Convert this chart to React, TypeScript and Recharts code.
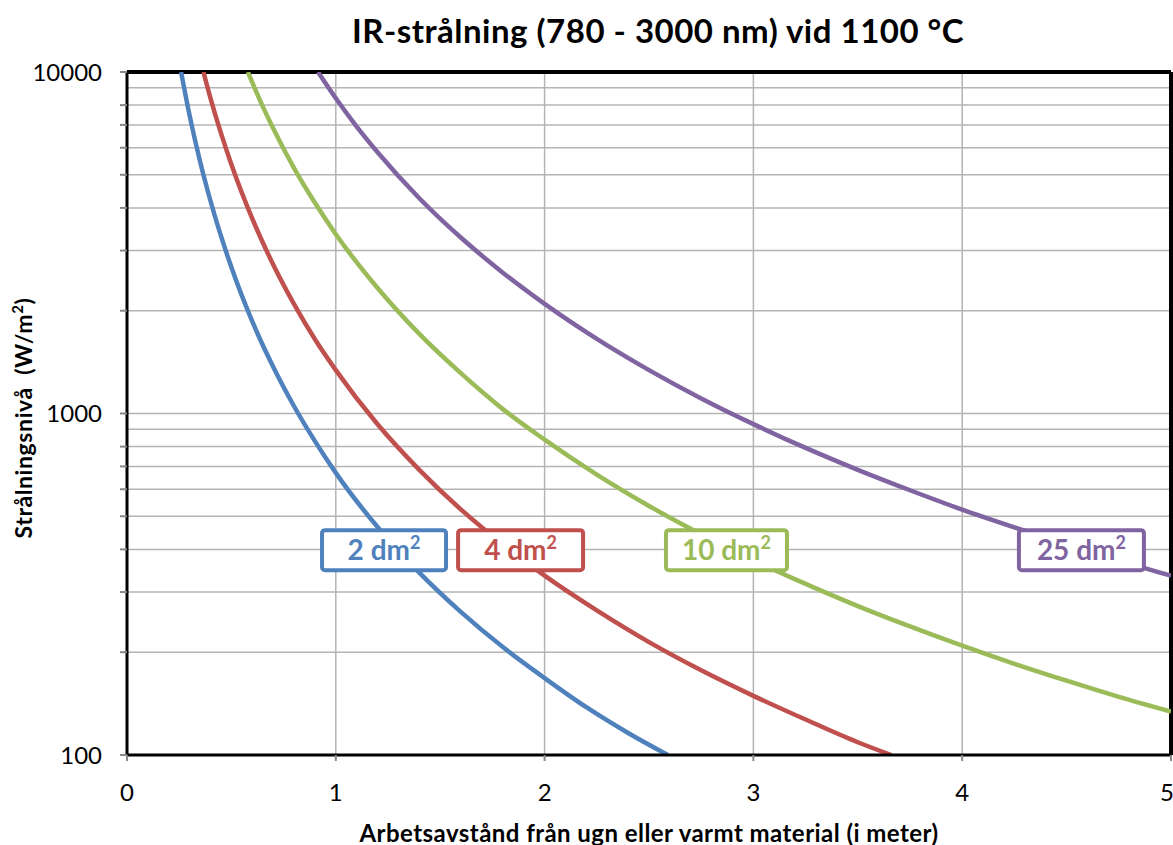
import React from 'react';
import {
  LineChart,
  Line,
  XAxis,
  YAxis,
  CartesianGrid,
  ReferenceLine,
  ReferenceDot,
} from 'recharts';

// avstånd (m) -> strålning (W/m2)
const blue2 = [
  { x: 0.259, y: 10000 }, { x: 0.3, y: 7450 }, { x: 0.35, y: 5470 }, { x: 0.4, y: 4190 },
  { x: 0.5, y: 2680 }, { x: 0.6, y: 1860 }, { x: 0.7, y: 1370 }, { x: 0.8, y: 1050 },
  { x: 0.9, y: 830 }, { x: 1.0, y: 670 }, { x: 1.2, y: 465 }, { x: 1.4, y: 342 },
  { x: 1.6, y: 262 }, { x: 1.8, y: 207 }, { x: 2.0, y: 168 }, { x: 2.2, y: 138 },
  { x: 2.4, y: 116 }, { x: 2.59, y: 100 },
];
const red4 = [
  { x: 0.366, y: 10000 }, { x: 0.4, y: 8375 }, { x: 0.45, y: 6620 }, { x: 0.5, y: 5360 },
  { x: 0.6, y: 3720 }, { x: 0.7, y: 2730 }, { x: 0.8, y: 2090 }, { x: 0.9, y: 1650 },
  { x: 1.0, y: 1340 }, { x: 1.2, y: 930 }, { x: 1.4, y: 684 }, { x: 1.6, y: 523 },
  { x: 1.8, y: 414 }, { x: 2.0, y: 335 }, { x: 2.25, y: 265 }, { x: 2.5, y: 214 },
  { x: 2.75, y: 177 }, { x: 3.0, y: 149 }, { x: 3.25, y: 127 }, { x: 3.5, y: 109 },
  { x: 3.66, y: 100 },
];
const green10 = [
  { x: 0.579, y: 10000 }, { x: 0.65, y: 7930 }, { x: 0.7, y: 6840 }, { x: 0.8, y: 5230 },
  { x: 0.9, y: 4140 }, { x: 1.0, y: 3350 }, { x: 1.2, y: 2330 }, { x: 1.4, y: 1710 },
  { x: 1.6, y: 1310 }, { x: 1.8, y: 1030 }, { x: 2.0, y: 838 }, { x: 2.25, y: 662 },
  { x: 2.5, y: 536 }, { x: 2.75, y: 443 }, { x: 3.0, y: 372 }, { x: 3.25, y: 317 },
  { x: 3.5, y: 273 }, { x: 3.75, y: 238 }, { x: 4.0, y: 209 }, { x: 4.25, y: 185 },
  { x: 4.5, y: 165 }, { x: 4.75, y: 148 }, { x: 5.0, y: 134 },
];
const purple25 = [
  { x: 0.915, y: 10000 }, { x: 1.0, y: 8375 }, { x: 1.1, y: 6920 }, { x: 1.2, y: 5820 },
  { x: 1.4, y: 4270 }, { x: 1.6, y: 3270 }, { x: 1.8, y: 2585 }, { x: 2.0, y: 2094 },
  { x: 2.25, y: 1654 }, { x: 2.5, y: 1340 }, { x: 2.75, y: 1107 }, { x: 3.0, y: 931 },
  { x: 3.25, y: 793 }, { x: 3.5, y: 684 }, { x: 3.75, y: 596 }, { x: 4.0, y: 523 },
  { x: 4.25, y: 464 }, { x: 4.5, y: 414 }, { x: 4.75, y: 371 }, { x: 5.0, y: 335 },
];

const xTicks = [0, 1, 2, 3, 4, 5];
const yTicks = [
  100, 200, 300, 400, 500, 600, 700, 800, 900,
  1000, 2000, 3000, 4000, 5000, 6000, 7000, 8000, 9000, 10000,
];
const yLabels = [100, 1000, 10000];

const series = [
  { name: '2 dm', data: blue2, color: '#4F81BD', labelX: 1.231, w: 124 },
  { name: '4 dm', data: red4, color: '#C0504D', labelX: 1.885, w: 125 },
  { name: '10 dm', data: green10, color: '#9BBB59', labelX: 2.871, w: 121 },
  { name: '25 dm', data: purple25, color: '#8064A2', labelX: 4.571, w: 125 },
];
const labelY = 398;

const FONT = 'Lato, "Open Sans", sans-serif';

function BoxLabel({ cx, cy, text, color, w }: any) {
  const h = 40;
  return (
    <g>
      <rect
        x={cx - w / 2}
        y={cy - h / 2}
        width={w}
        height={h}
        rx={3}
        fill="#fff"
        stroke={color}
        strokeWidth={4}
      />
      <text
        x={cx}
        y={cy}
        dy="0.36em"
        textAnchor="middle"
        fill={color}
        fontSize={28}
        fontWeight={700}
        fontFamily={FONT}
      >
        {text}
        <tspan fontSize={18} dy={-11}>2</tspan>
      </text>
    </g>
  );
}

export default function App() {
  return (
    <div
      style={{
        position: 'absolute',
        left: 0,
        top: 0,
        width: 1173,
        height: 845,
        background: '#fff',
        fontFamily: FONT,
      }}
    >
      <div
        style={{
          position: 'absolute',
          top: 10,
          left: 0,
          width: 1316,
          textAlign: 'center',
          fontSize: 33,
          letterSpacing: 0.5,
          fontWeight: 700,
          color: '#000',
        }}
      >
        IR-strålning (780 - 3000 nm) vid 1100 °C
      </div>
      <div
        style={{
          position: 'absolute',
          left: 23,
          top: 418,
          transform: 'translate(-50%, -50%) rotate(-90deg)',
          whiteSpace: 'pre',
          fontSize: 23,
          letterSpacing: 0.6,
          fontWeight: 700,
        }}
      >
        Strålningsnivå  (W/m
        <span style={{ fontSize: 15, verticalAlign: 'super', lineHeight: 0 }}>2</span>)
      </div>
      <div
        style={{
          position: 'absolute',
          left: 649,
          top: 832,
          transform: 'translate(-50%, -50%)',
          whiteSpace: 'pre',
          fontSize: 24,
          letterSpacing: 0.45,
          fontWeight: 700,
        }}
      >
        Arbetsavstånd från ugn eller varmt material (i meter)
      </div>
      <LineChart
        width={1173}
        height={845}
        margin={{ top: 72, right: 2, bottom: 0, left: 0 }}
        style={{ position: 'absolute', left: 0, top: 0 }}
      >
        <CartesianGrid stroke="#b4b4b4" strokeWidth={1.5} />
        <XAxis
          type="number"
          dataKey="x"
          domain={[0, 5]}
          ticks={xTicks}
          allowDataOverflow
          height={90}
          axisLine={{ stroke: '#000', strokeWidth: 3 }}
          tickLine={{ stroke: '#888', strokeWidth: 2 }}
          tickSize={6}
          tickMargin={23}
          tick={{ fill: '#000', fontSize: 24 }}
        />
        <YAxis
          type="number"
          dataKey="y"
          scale="log"
          domain={[100, 10000]}
          ticks={yTicks}
          allowDataOverflow
          width={127}
          axisLine={{ stroke: '#000', strokeWidth: 3 }}
          tickLine={{ stroke: '#888', strokeWidth: 2 }}
          tickSize={7}
          tickMargin={18}
          tickFormatter={(v: number) => (yLabels.includes(v) ? String(v) : '')}
          tick={{ fill: '#000', fontSize: 24 }}
        />
        <ReferenceLine y={10000} stroke="#000" strokeWidth={4} />
        <ReferenceLine x={5} stroke="#000" strokeWidth={4} />
        {series.map((s) => (
          <Line
            key={s.name}
            data={s.data}
            dataKey="y"
            type="monotone"
            stroke={s.color}
            strokeWidth={4.5}
            dot={false}
            isAnimationActive={false}
          />
        ))}
        {series.map((s) => (
          <ReferenceDot
            key={'lbl' + s.name}
            x={s.labelX}
            y={labelY}
            r={0}
            shape={(p: any) => (
              <BoxLabel cx={p.cx} cy={p.cy} text={s.name} color={s.color} w={s.w} />
            )}
          />
        ))}
      </LineChart>
    </div>
  );
}
